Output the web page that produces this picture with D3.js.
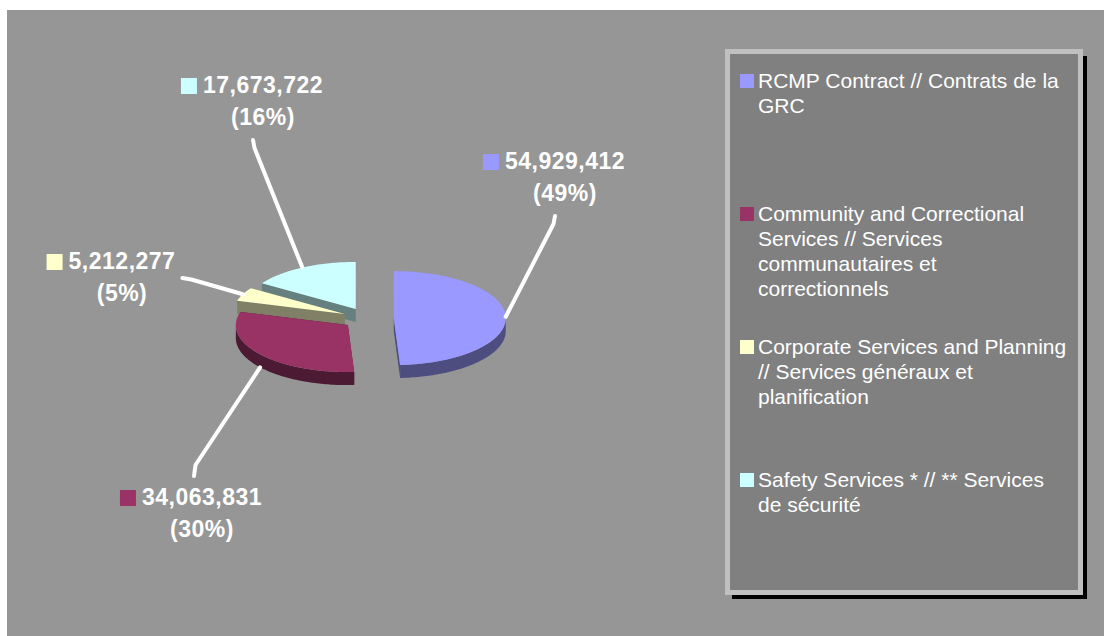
<!DOCTYPE html>
<html>
<head>
<meta charset="utf-8">
<style>
body { margin: 0; background: #fff; }
svg { display: block; font-family: "Liberation Sans", Arial, sans-serif; }
.lbl { fill: #fff; font-weight: bold; font-size: 23px; letter-spacing: 0.5px; }
.leg text { fill: #fff; font-size: 21px; }
</style>
</head>
<body>
<svg id="chart" width="1104" height="636"></svg>
<script src="https://d3js.org/d3.v7.min.js"></script>
<script>
const categories = [
  "RCMP Contract // Contrats de la GRC",
  "Community and Correctional Services // Services communautaires et correctionnels",
  "Corporate Services and Planning // Services généraux et planification",
  "Safety Services * // ** Services de sécurité"
];
const values = [54929412, 34063831, 5212277, 17673722];
const colors = ["#9999FF", "#993366", "#FFFFCC", "#CCFFFF"];

const W = 1104, H = 636;
const svg = d3.select("#chart");

// plot area background
svg.append("rect")
  .attr("x", 7).attr("y", 10)
  .attr("width", W - 7).attr("height", H - 10)
  .attr("fill", "#969696");

// 3d pie: unit circle mapped on a tilted ellipse
const cx = 368, cy = 318.4, rx = 112, ry = 47, depth = 13, explode = 0.23;
const x = d3.scaleLinear().domain([-1, 1]).range([cx - rx, cx + rx]);
const y = d3.scaleLinear().domain([-1, 1]).range([cy - ry, cy + ry]);

const arcs = d3.pie().sort(null).value(d => d)(values);
const total = d3.sum(values);
const mid = d => (d.startAngle + d.endAngle) / 2;

function pt(d, a, r, dz) {
  const m = mid(d);
  const ux = explode * Math.sin(m) + r * Math.sin(a);
  const uy = -(explode * Math.cos(m) + r * Math.cos(a));
  return [x(ux), y(uy) + dz];
}
function arcPts(d, a0, a1, dz) {
  const n = Math.max(2, Math.ceil((a1 - a0) / 0.02));
  return d3.range(n + 1).map(i => pt(d, a0 + (a1 - a0) * i / n, 1, dz));
}
const line = d3.line();
const shade = c => { const k = d3.rgb(c); return d3.rgb(k.r * 0.5, k.g * 0.5, k.b * 0.5).toString(); };

// back slices first
const order = d3.range(arcs.length)
  .sort((i, j) => pt(arcs[i], 0, 0, 0)[1] - pt(arcs[j], 0, 0, 0)[1]);

const pieG = svg.append("g");
order.forEach(i => {
  const d = arcs[i];
  const g = pieG.append("g");
  const side = shade(colors[i]);
  [d.startAngle, d.endAngle].forEach(a => {
    g.append("path")
      .attr("d", line([pt(d, a, 0, 0), pt(d, a, 1, 0), pt(d, a, 1, depth), pt(d, a, 0, depth)]) + "Z")
      .attr("fill", side);
  });
  const f0 = Math.max(d.startAngle, Math.PI / 2), f1 = Math.min(d.endAngle, 3 * Math.PI / 2);
  if (f1 > f0) {
    g.append("path")
      .attr("d", line(arcPts(d, f0, f1, 0).concat(arcPts(d, f0, f1, depth).reverse())) + "Z")
      .attr("fill", side);
  }
  g.append("path")
    .attr("d", line([pt(d, 0, 0, 0)].concat(arcPts(d, d.startAngle, d.endAngle, 0))) + "Z")
    .attr("fill", colors[i]);
});

// data labels (placed by hand in the original)
const labelPos = [
  {x: 565, y: 169, side: "top"},
  {x: 202, y: 505, side: "bottom"},
  {x: 122, y: 269, side: "left"},
  {x: 263, y: 93, side: "top"}
];
const fmt = d3.format(",");
const lineGap = 32;

const leadG = svg.append("g");
const lblG = svg.append("g");

arcs.forEach((d, i) => {
  const lp = labelPos[i];
  const t = lblG.append("text").attr("class", "lbl").attr("text-anchor", "middle");
  const t1 = t.append("tspan").attr("x", lp.x).attr("y", lp.y).text(fmt(values[i]));
  t.append("tspan").attr("x", lp.x).attr("y", lp.y + lineGap)
    .text("(" + Math.round(values[i] / total * 100) + "%)");
  const w = t1.node().getComputedTextLength();
  const left = lp.x - w / 2;
  lblG.append("rect")
    .attr("x", left - 22).attr("y", lp.y - 15)
    .attr("width", 16).attr("height", 16)
    .attr("fill", colors[i]);

  // leader line
  const m = mid(d);
  const start = pt(d, m, 1, Math.cos(m) < 0 ? depth : 0);
  let tail, elbow;
  if (lp.side === "top") {
    tail = [lp.x - 10, lp.y + lineGap + 15];
    elbow = [tail[0] + (start[0] < tail[0] ? -1.5 : 1.5), tail[1] + 8];
  } else if (lp.side === "bottom") {
    tail = [lp.x - 8, lp.y - 29];
    elbow = [tail[0] + (start[0] < tail[0] ? -1.5 : 1.5), tail[1] - 11];
  } else {
    tail = [left + w + 7, lp.y + 9];
    elbow = [tail[0] + 9, tail[1] + 1.5];
  }
  leadG.append("path")
    .attr("d", line([tail, elbow, start]))
    .attr("fill", "none")
    .attr("stroke", "#fff")
    .attr("stroke-width", 4)
    .attr("stroke-linecap", "round")
    .attr("stroke-linejoin", "round");
});

// legend
const legG = svg.append("g").attr("class", "leg");
legG.append("rect")
  .attr("x", 732).attr("y", 56).attr("width", 355).attr("height", 543)
  .attr("fill", "#000");
legG.append("rect")
  .attr("x", 727.5).attr("y", 51.5).attr("width", 353).attr("height", 541)
  .attr("fill", "#808080").attr("stroke", "#c0c0c0").attr("stroke-width", 5);

const legY = d3.scaleLinear().domain([0, categories.length - 1]).range([88, 487]);
const maxW = 311;

categories.forEach((c, i) => {
  const by = legY(i);
  legG.append("rect")
    .attr("x", 740).attr("y", by - 14)
    .attr("width", 14).attr("height", 14)
    .attr("fill", colors[i]);
  const t = legG.append("text").attr("x", 758).attr("y", by);
  const words = c.split(" ");
  let cur = [], ln = 0;
  let ts = t.append("tspan").attr("x", 758).attr("y", by);
  words.forEach(wd => {
    cur.push(wd);
    ts.text(cur.join(" "));
    if (ts.node().getComputedTextLength() > maxW && cur.length > 1) {
      cur.pop();
      ts.text(cur.join(" "));
      cur = [wd];
      ln++;
      ts = t.append("tspan").attr("x", 758).attr("y", by + ln * 25).text(wd);
    }
  });
});
</script>
</body>
</html>
